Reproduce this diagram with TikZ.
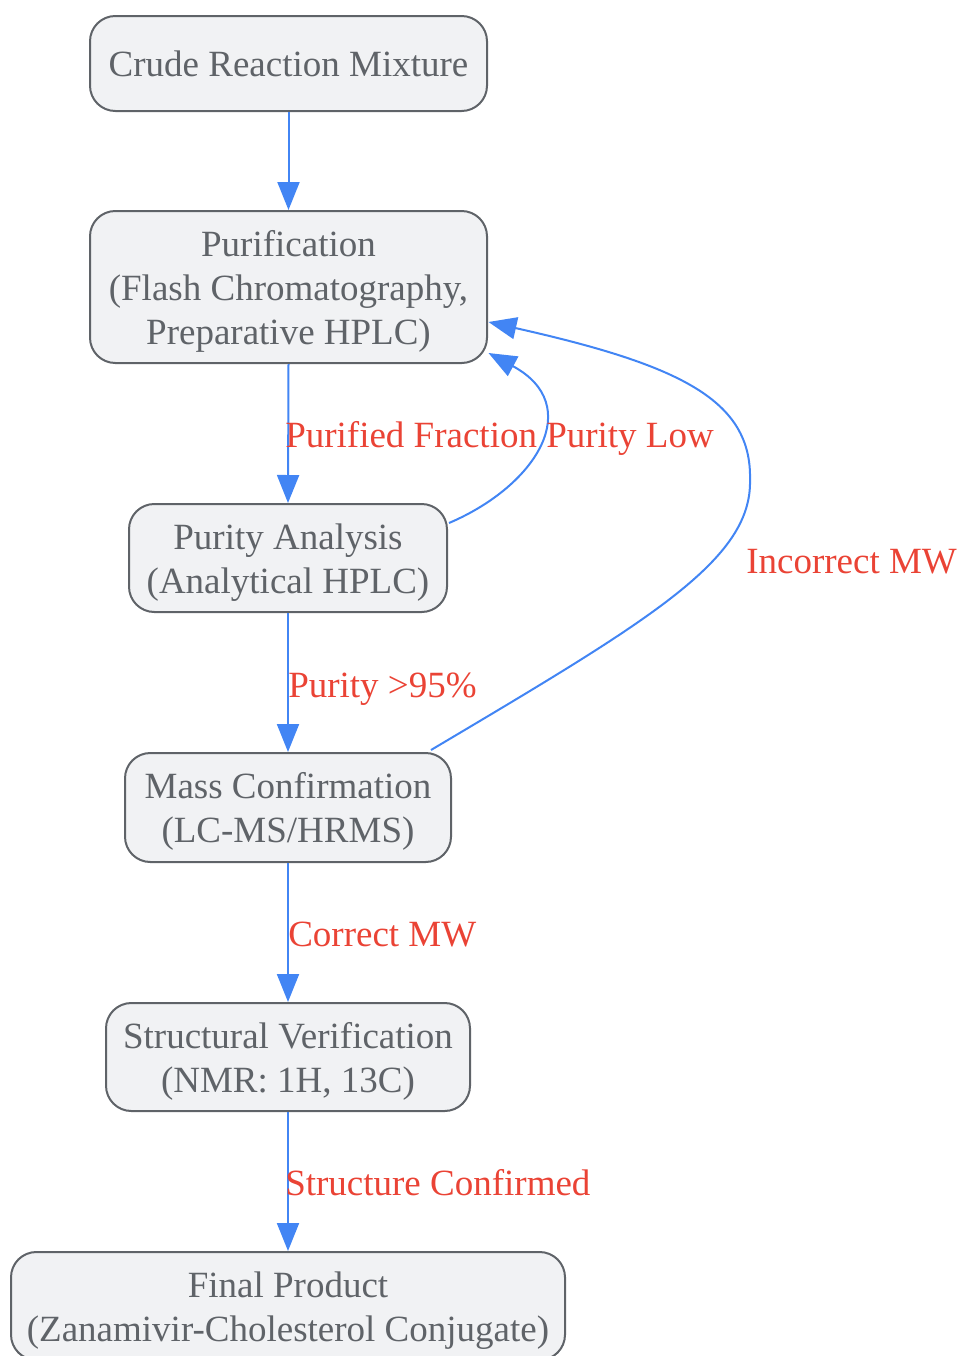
\documentclass[tikz,border=0pt]{standalone}
\usepackage{fontspec}
\setmainfont{Liberation Serif}
\usetikzlibrary{arrows.meta,calc}
\definecolor{boxfill}{HTML}{F1F2F4}
\definecolor{boxline}{HTML}{5F6368}
\definecolor{txtgray}{HTML}{5F6368}
\definecolor{edgeblue}{HTML}{4285F4}
\definecolor{labelred}{HTML}{EA4335}
\newcommand{\topstrut}{\rule{0pt}{26pt}}
\begin{document}
\begin{tikzpicture}[x=0.75pt,y=-0.75pt,
  box/.style={draw=boxline, fill=boxfill, line width=1.5pt, rounded corners=19pt,
    align=center, text=txtgray, font=\fontsize{27.75}{33}\selectfont, inner sep=0pt},
  flow/.style={draw=edgeblue, line width=1.5pt, -{Triangle[length=21pt,width=16.5pt]}},
  elabel/.style={text=labelred, font=\fontsize{27.75}{33}\selectfont, inner sep=0pt, anchor=base west}]
\useasboundingbox (0,0) rectangle (960,1356);
\node[box, minimum width=297.75pt, minimum height=71.25pt] (crude) at (288.5,63.5) {Crude Reaction Mixture};
\node[box, minimum width=297.75pt, minimum height=114pt] (purif) at (288.5,287) {\topstrut Purification\\(Flash Chromatography,\\Preparative HPLC)};
\node[box, minimum width=238.5pt, minimum height=81pt] (purity) at (288,558) {\topstrut Purity Analysis\\(Analytical HPLC)};
\node[box, minimum width=244.5pt, minimum height=81.75pt] (mass) at (288,807.5) {\topstrut Mass Confirmation\\(LC-MS/HRMS)};
\node[box, minimum width=273pt, minimum height=81pt] (struct) at (288,1057) {\topstrut Structural Verification\\(NMR: 1H, 13C)};
\node[box, minimum width=415.5pt, minimum height=81pt] (final) at (288,1306) {\topstrut Final Product\\(Zanamivir-Cholesterol Conjugate)};

\draw[flow] (crude.south) -- (purif.north);
\draw[flow] (purif.south) -- (purity.north);
\draw[flow] (purity.south) -- (mass.north);
\draw[flow] (mass.south) -- (struct.north);
\draw[flow] (struct.south) -- (final.north);
\draw[flow] ([shift={(1,-35)}]purity.east) .. controls (538,485) and (585,405) .. ([shift={(0.5,66)}]purif.east);
\draw[flow] ([shift={(-21,-2)}]mass.north east) .. controls (650,620) and (752,560) .. (750,480)
  .. controls (752,400) and (680,365) .. ([shift={(0.5,35)}]purif.east);

\node[elabel] (l1) at (285,447) {Purified Fraction};
\node[elabel] (l2) at (546,447) {Purity Low};
\node[elabel] (l3) at (288,697) {Purity >95\%};
\node[elabel] (l4) at (288,946) {Correct MW};
\node[elabel] (l5) at (285,1195) {Structure Confirmed};
\node[elabel] (l6) at (746,573) {Incorrect MW};
\end{tikzpicture}
\end{document}
